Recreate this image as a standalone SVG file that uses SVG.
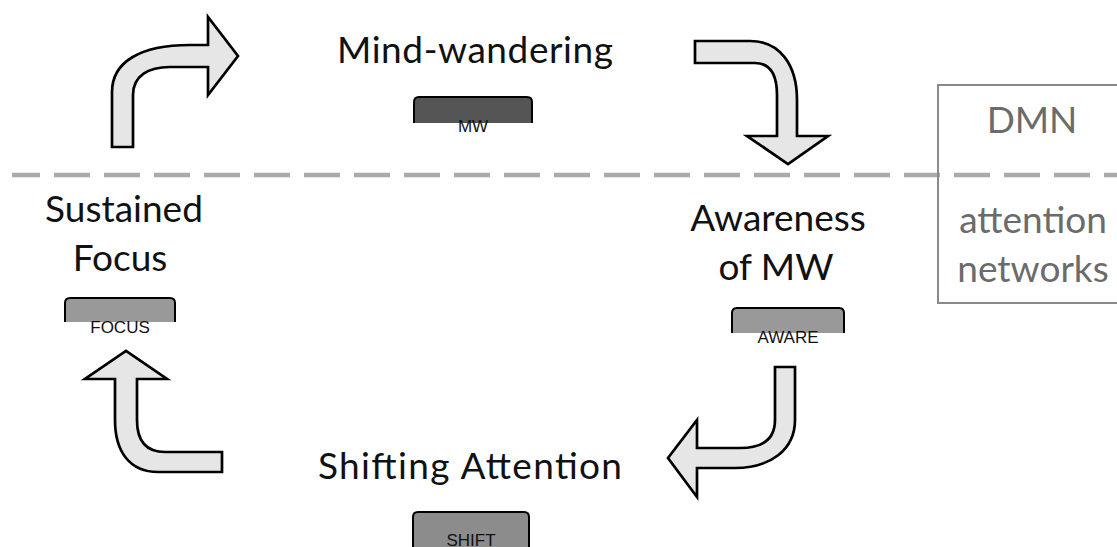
<svg xmlns="http://www.w3.org/2000/svg" width="1117" height="547" viewBox="0 0 1117 547">
<style>
.lbl{font-family:Lato,"Open Sans",sans-serif;font-size:37px;fill:#111;text-anchor:middle}
.side{font-family:Lato,"Open Sans",sans-serif;font-size:37px;fill:#6b6b6b;text-anchor:middle}
.tag{font-family:"Liberation Sans",Arial,sans-serif;font-size:17px;fill:#111;text-anchor:middle}
.box{stroke:#000;stroke-width:2;stroke-linejoin:round}
.arr{fill:#e6e6e6;stroke:#000;stroke-width:2.7;stroke-linejoin:miter}
</style>
<rect width="1117" height="547" fill="#fff"/>
<g id="divider">
<line x1="12" y1="175" x2="1117" y2="175" stroke="#aaa" stroke-width="4.5" stroke-dasharray="36 14" stroke-dashoffset="8"/>
</g>
<g id="legend">
<rect x="938" y="85" width="200" height="218" fill="none" stroke="#8a8a8a" stroke-width="2"/>
<text class="side" x="1032" y="133">DMN</text>
<text class="side" x="1033" y="233">attention</text>
<text class="side" x="1033" y="282">networks</text>
</g>
<g id="connectors">
<path class="arr" d="M112,147 L112,92 C112,62 140,45 190,45 L208,45 L208,17 L238,56 L208,95 L208,67 L170,67 C148,67 133,76 133,95 L133,147 Z"/>
<path class="arr" d="M695,41 L750,41 C780,41 797,65 797,100 L797,136 L828,136 L788,164 L747,136 L777,136 L777,95 C777,75 770,63 755,63 L695,63 Z"/>
<path class="arr" d="M775,367 L795,367 L795,420 C795,450 770,468 735,468 L697,468 L697,497 L668,458 L697,420 L697,448 L740,448 C762,448 775,440 775,420 Z"/>
<path class="arr" d="M115,379 L85,379 L126,351 L167,379 L137,379 L137,420 C137,440 145,452 165,452 L222,452 L222,472 L158,472 C130,472 115,452 115,420 Z"/>
</g>
<g id="node-mind-wandering">
<text class="lbl" x="475" y="63" textLength="276">Mind-wandering</text>
<path class="box" fill="#555" d="M414,123 L414,102 Q414,97 419,97 L527,97 Q532,97 532,102 L532,123"/>
<text class="tag" x="473" y="132">MW</text>
</g>
<g id="node-awareness">
<text class="lbl" x="778" y="231">Awareness</text>
<text class="lbl" x="776" y="280">of MW</text>
<path class="box" fill="#999" d="M732,333 L732,313 Q732,308 737,308 L839,308 Q844,308 844,313 L844,333"/>
<text class="tag" x="788" y="343">AWARE</text>
</g>
<g id="node-shifting">
<text class="lbl" x="470" y="479" textLength="304">Shifting Attention</text>
<path class="box" fill="#8c8c8c" d="M413,547 L413,517 Q413,512 418,512 L524,512 Q529,512 529,517 L529,547"/>
<text class="tag" x="471" y="546">SHIFT</text>
</g>
<g id="node-focus">
<text class="lbl" x="124" y="222">Sustained</text>
<text class="lbl" x="120" y="271">Focus</text>
<path class="box" fill="#999" d="M65,322 L65,303 Q65,298 70,298 L170,298 Q175,298 175,303 L175,322"/>
<text class="tag" x="120" y="333">FOCUS</text>
</g>
</svg>
